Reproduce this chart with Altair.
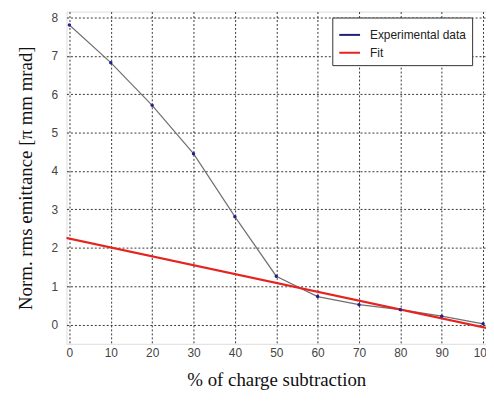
import altair as alt
import pandas as pd

# data
exp_x = [0, 10, 20, 30, 40, 50, 60, 70, 80, 90, 100]
exp_y = [7.8, 6.82, 5.71, 4.45, 2.81, 1.26, 0.73, 0.52, 0.39, 0.22, 0.02]
fit_x = [-1, 101]
fit_y = [2.26, -0.09]
x_ticks = [0, 10, 20, 30, 40, 50, 60, 70, 80, 90, 100]
y_ticks = [0, 1, 2, 3, 4, 5, 6, 7, 8]
series_names = ["Experimental data", "Fit"]

exp_df = pd.DataFrame({"x": exp_x, "y": exp_y, "series": series_names[0]})
fit_df = pd.DataFrame({"x": fit_x, "y": fit_y, "series": series_names[1]})

xs = alt.Scale(domain=[-0.7, 100.7], nice=False, zero=False)
ys = alt.Scale(domain=[-0.5, 8.15], nice=False, zero=False)

color = alt.Color(
    "series:N",
    scale=alt.Scale(domain=series_names, range=["#20207a", "#e52420"]),
    legend=alt.Legend(
        title=None, orient="none", legendX=268, legendY=6,
        fillColor="white", strokeColor="#333333", padding=6,
        labelFont="Liberation Sans", labelFontSize=12, labelColor="#222222",
        symbolType="stroke", symbolSize=440, symbolStrokeWidth=2, symbolOpacity=1,
        rowPadding=0, labelOffset=9, labelLimit=200,
    ),
)

x_enc = alt.X(
    "x:Q", scale=xs,
    axis=alt.Axis(
        values=x_ticks, title="% of charge subtraction", grid=True,
        gridDash=[2, 2], gridColor="#222222", gridWidth=1, gridOpacity=0.9,
        tickSize=0, domain=False, labelPadding=4,
        labelFont="Liberation Sans", labelFontSize=12, labelColor="#444444",
        titleFont="Liberation Serif", titleFontSize=19, titleFontWeight="normal",
        titleColor="#111111", titlePadding=12,
    ),
)
y_enc = alt.Y(
    "y:Q", scale=ys,
    axis=alt.Axis(
        values=y_ticks, title="Norm. rms emittance  [\u03c0 mm mrad]", grid=True,
        gridDash=[2, 2], gridColor="#222222", gridWidth=1, gridOpacity=0.9,
        tickSize=0, domain=False, labelPadding=9,
        labelFont="Liberation Sans", labelFontSize=12, labelColor="#444444",
        titleFont="Liberation Serif", titleFontSize=19, titleFontWeight="normal",
        titleColor="#111111", titlePadding=16,
    ),
)

exp_line = alt.Chart(exp_df).mark_line(color="#707070", strokeWidth=1.2).encode(
    x=x_enc, y=y_enc
)
fit_line = alt.Chart(fit_df).mark_line(clip=True, strokeWidth=2.2).encode(
    x=alt.X("x:Q", scale=xs), y=alt.Y("y:Q", scale=ys), color=color
)
pts = alt.Chart(exp_df).mark_point(filled=True, size=12, color="#1f1f8f", opacity=1).encode(
    x=alt.X("x:Q", scale=xs), y=alt.Y("y:Q", scale=ys)
)

chart = (
    alt.layer(exp_line, fit_line, pts)
    .properties(
        width=423, height=335,
        autosize=alt.AutoSizeParams(type="none"),
        padding={"left": 59, "top": 2, "right": 0, "bottom": 50},
    )
    .configure_view(stroke="#555555", strokeWidth=1.5)
    .configure(background="white")
)

chart.save("out.html", embed_options={"renderer": "svg", "actions": False})
